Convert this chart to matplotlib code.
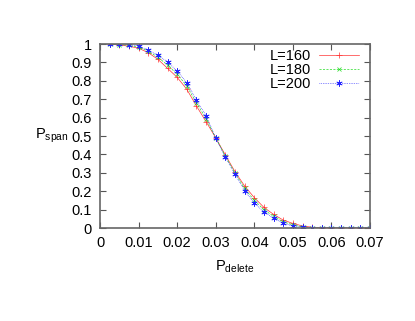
import matplotlib
matplotlib.use("Agg")
import matplotlib.pyplot as plt

p_delete = [0.0025, 0.005, 0.0075, 0.01, 0.0125, 0.015, 0.0175, 0.02, 0.0225, 0.025,
            0.0275, 0.03, 0.0325, 0.035, 0.0375, 0.04, 0.0425, 0.045, 0.0475, 0.05,
            0.0525, 0.055, 0.0575, 0.06, 0.0625, 0.065, 0.0675, 0.07]
span_160 = [0.998, 0.995, 0.988, 0.977, 0.953, 0.917, 0.868, 0.819, 0.754, 0.663,
            0.578, 0.490, 0.397, 0.306, 0.228, 0.165, 0.112, 0.074, 0.043, 0.025,
            0.011, 0.004, 0.0015, 0.0005, 0.0, 0.0, 0.0, 0.0]
span_180 = [0.999, 0.997, 0.992, 0.984, 0.960, 0.928, 0.886, 0.836, 0.772, 0.680,
            0.594, 0.490, 0.390, 0.299, 0.215, 0.150, 0.100, 0.063, 0.034, 0.017,
            0.006, 0.002, 0.0005, 0.0, 0.0, 0.0, 0.0, 0.0]
span_200 = [1.000, 0.998, 0.995, 0.990, 0.967, 0.938, 0.904, 0.852, 0.790, 0.696,
            0.610, 0.490, 0.384, 0.293, 0.203, 0.134, 0.089, 0.053, 0.026, 0.011,
            0.003, 0.001, 0.0, 0.0, 0.0, 0.0, 0.0, 0.0]

x_ticks = [0, 0.01, 0.02, 0.03, 0.04, 0.05, 0.06, 0.07]
y_ticks = [0, 0.1, 0.2, 0.3, 0.4, 0.5, 0.6, 0.7, 0.8, 0.9, 1]

plt.rcParams['font.family'] = ['Liberation Sans', 'DejaVu Sans']
fig = plt.figure(figsize=(4.15, 3.21), dpi=100)
ax = fig.add_axes([100 / 415, 1 - 228 / 321, 270 / 415, 184 / 321])

star = (6, 2, 0)
ax.plot(p_delete, span_160, color='#ff3333', lw=0.5, ls='-', marker='+', ms=4, mew=0.5, label='L=160')
ax.plot(p_delete, span_180, color='#22dd22', lw=0.5, ls=(0, (3, 2)), marker='x', ms=3.5, mew=0.5, label='L=180')
ax.plot(p_delete, span_200, color='#2222ff', lw=0.5, ls=(0, (1, 1.5)), marker=star, ms=4.5, mew=0.5, label='L=200')

ax.set_xlim(0, 0.07)
ax.set_ylim(0, 1)
ax.set_xticks(x_ticks)
ax.set_xticklabels(['0' if t == 0 else f'{t:g}' for t in x_ticks])
ax.set_yticks(y_ticks)
ax.set_yticklabels([f'{t:g}' for t in y_ticks])
ax.tick_params(direction='in', top=True, right=True, length=4, width=0.8, color='#555555', labelsize=10.5, pad=6)
for s in ax.spines.values():
    s.set_color('#666666')
    s.set_linewidth(1.2)

ax.set_xlabel('P$_{\\mathregular{delete}}$', fontsize=10.5, labelpad=6)
ax.set_ylabel('P$_{\\mathregular{span}}$', fontsize=10.5, rotation=0, labelpad=14, va='center')

ax.legend(loc='upper right', frameon=False, markerfirst=False, fontsize=10.5,
          handlelength=2.75, handletextpad=0.55, labelspacing=0.0,
          borderpad=0, borderaxespad=0, bbox_to_anchor=(0.959, 0.971))

fig.savefig('out.png', dpi=100)
